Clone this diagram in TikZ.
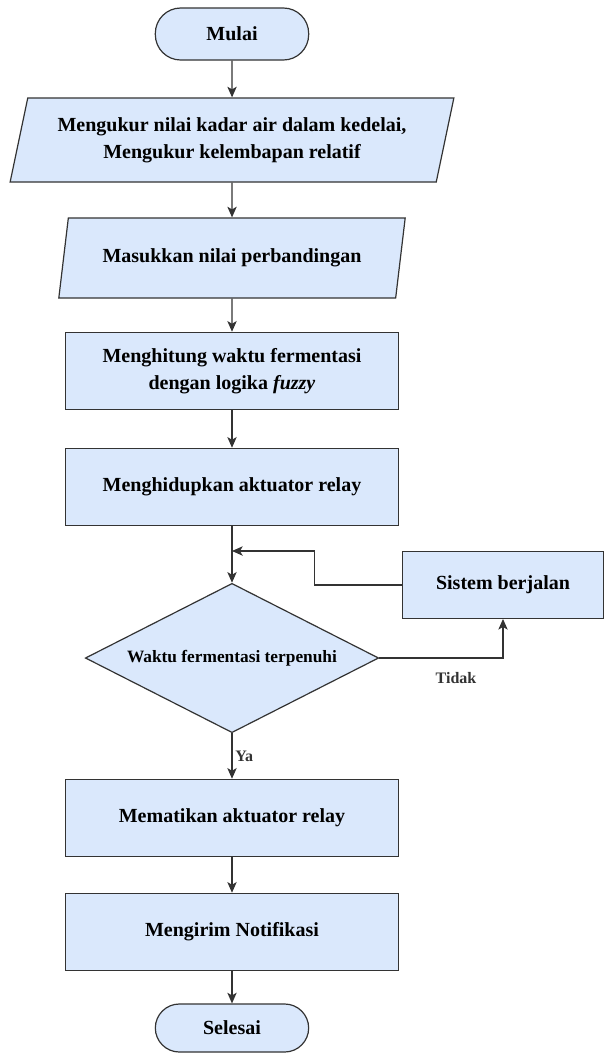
\documentclass[tikz,border=0pt]{standalone}
\usepackage{fontspec}
\setmainfont{Liberation Serif}[BoldFont={Liberation Serif Bold}, BoldItalicFont={Liberation Serif Bold Italic}]
\usepackage{tikz}
\usetikzlibrary{arrows.meta, positioning, shapes.geometric}
\usepackage{xcolor}
\definecolor{boxfill}{HTML}{DAE8FC}
\definecolor{boxline}{HTML}{333333}

\begin{document}
\begin{tikzpicture}[
  x=0.75pt, y=-0.75pt,
  every node/.style={font=\bfseries\fontsize{15}{20}\selectfont},
  term/.style={draw=boxline, fill=boxfill, rounded corners=19pt, align=center,
               minimum width=115pt, minimum height=39pt, line width=0.9pt},
  io/.style={draw=boxline, fill=boxfill, trapezium, trapezium left angle=74,
             trapezium right angle=106, trapezium stretches=true, align=center, line width=0.9pt},
  proc/.style={draw=boxline, fill=boxfill, align=center, minimum width=250pt,
               minimum height=58pt, line width=0.9pt},
  cond/.style={draw=boxline, fill=boxfill, diamond, aspect=1.96, align=center, minimum width=220pt,
               minimum height=112pt, inner sep=0pt, line width=0.9pt,
               font=\bfseries\fontsize{13}{16}\selectfont},
  arr/.style={-{Stealth[length=8pt, width=7pt, inset=2pt]}, line width=0.9pt, boxline},
  lbl/.style={font=\bfseries\fontsize{12}{14}\selectfont, inner sep=2pt}
]
  \useasboundingbox (0,0) rectangle (604,1054);

  % ---- main column, x = 232 ----
  \node[term] (mulai)  at (232,34)   {Mulai};
  \node[io, minimum width=334pt, minimum height=63pt] (ukur) at (232,140)
        {Mengukur nilai kadar air dalam kedelai,\\Mengukur kelembapan relatif};
  \node[io, minimum width=260pt, minimum height=60pt] (masuk) at (232,258)
        {Masukkan nilai perbandingan};
  \node[proc] (hitung) at (232,371) {Menghitung waktu fermentasi\\dengan logika \textit{fuzzy}};
  \node[proc] (hidup)  at (232,487) {Menghidupkan aktuator relay};
  \node[cond] (waktu)  at (232,658) {Waktu fermentasi terpenuhi};
  \node[proc] (mati)   at (232,818) {Mematikan aktuator relay};
  \node[proc] (kirim)  at (232,932) {Mengirim Notifikasi};
  \node[term, minimum height=36pt, rounded corners=18pt] (selesai) at (232,1028) {Selesai};

  % ---- side box for the loop ----
  \node[proc, minimum width=151pt, minimum height=50pt] (jalan) at (503,585) {Sistem berjalan};
  \coordinate (join) at (232,551);

  % ---- straight flow ----
  \draw[arr] (mulai) -- (ukur);
  \draw[arr] (ukur) -- (masuk);
  \draw[arr] (masuk) -- (hitung);
  \draw[arr] (hitung) -- (hidup);
  \draw[arr] (hidup) -- (waktu);
  \draw[arr] (waktu) -- (mati) node[lbl, midway, right]{Ya};
  \draw[arr] (mati) -- (kirim);
  \draw[arr] (kirim) -- (selesai);

  % ---- Tidak: out to the side box and back above the decision ----
  \draw[arr] (waktu.east) -| (jalan.south) node[lbl, pos=0.31, below=8pt]{Tidak};
  \draw[arr] (jalan.west) -- ++(-87,0) |- (join);
\end{tikzpicture}
\end{document}
